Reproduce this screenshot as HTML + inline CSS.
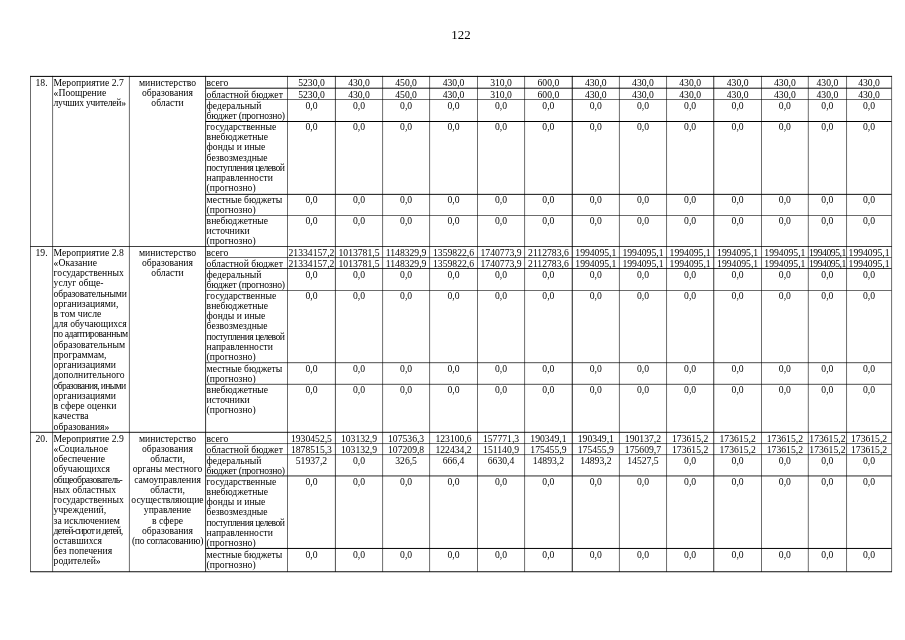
<!DOCTYPE html>
<html><head><meta charset="utf-8"><title>122</title>
<style>
html,body{margin:0;padding:0;background:#fff;}
body{width:905px;height:640px;position:relative;overflow:hidden;font-family:"Liberation Serif",serif;color:#000;}
svg{position:absolute;left:0;top:0;}
.t{position:absolute;white-space:nowrap;font-size:9.67px;line-height:11px;height:11px;}
#pg{position:absolute;left:0;top:0;width:905px;height:640px;filter:grayscale(1);}
</style></head><body><div id="pg">
<svg width="905" height="640" viewBox="0 0 905 640">
<line x1="30.50" y1="75.90" x2="30.50" y2="571.90" stroke="#000" stroke-width="0.58"/>
<line x1="52.60" y1="75.90" x2="52.60" y2="571.90" stroke="#000" stroke-width="0.58"/>
<line x1="129.40" y1="75.90" x2="129.40" y2="571.90" stroke="#000" stroke-width="0.58"/>
<line x1="205.60" y1="75.90" x2="205.60" y2="571.90" stroke="#000" stroke-width="0.8"/>
<line x1="287.50" y1="75.90" x2="287.50" y2="571.90" stroke="#000" stroke-width="0.58"/>
<line x1="335.40" y1="75.90" x2="335.40" y2="571.90" stroke="#000" stroke-width="0.7"/>
<line x1="382.60" y1="75.90" x2="382.60" y2="571.90" stroke="#000" stroke-width="0.58"/>
<line x1="429.60" y1="75.90" x2="429.60" y2="571.90" stroke="#000" stroke-width="0.58"/>
<line x1="477.50" y1="75.90" x2="477.50" y2="571.90" stroke="#000" stroke-width="0.58"/>
<line x1="524.60" y1="75.90" x2="524.60" y2="571.90" stroke="#000" stroke-width="0.58"/>
<line x1="572.25" y1="75.90" x2="572.25" y2="571.90" stroke="#000" stroke-width="0.9"/>
<line x1="619.40" y1="75.90" x2="619.40" y2="571.90" stroke="#000" stroke-width="0.58"/>
<line x1="666.55" y1="75.90" x2="666.55" y2="571.90" stroke="#000" stroke-width="0.58"/>
<line x1="713.75" y1="75.90" x2="713.75" y2="571.90" stroke="#000" stroke-width="0.8"/>
<line x1="761.50" y1="75.90" x2="761.50" y2="571.90" stroke="#000" stroke-width="0.58"/>
<line x1="808.30" y1="75.90" x2="808.30" y2="571.90" stroke="#000" stroke-width="0.58"/>
<line x1="846.55" y1="75.90" x2="846.55" y2="571.90" stroke="#000" stroke-width="0.58"/>
<line x1="891.60" y1="75.90" x2="891.60" y2="571.90" stroke="#000" stroke-width="0.58"/>
<line x1="30.20" y1="76.40" x2="891.90" y2="76.40" stroke="#000" stroke-width="1.0"/>
<line x1="205.60" y1="88.20" x2="891.60" y2="88.20" stroke="#000" stroke-width="0.95"/>
<line x1="205.60" y1="99.50" x2="891.60" y2="99.50" stroke="#000" stroke-width="0.58"/>
<line x1="205.60" y1="121.50" x2="891.60" y2="121.50" stroke="#000" stroke-width="1.0"/>
<line x1="205.60" y1="194.35" x2="891.60" y2="194.35" stroke="#000" stroke-width="0.95"/>
<line x1="205.60" y1="215.50" x2="891.60" y2="215.50" stroke="#000" stroke-width="0.58"/>
<line x1="30.20" y1="246.50" x2="891.90" y2="246.50" stroke="#000" stroke-width="0.75"/>
<line x1="205.60" y1="257.50" x2="891.60" y2="257.50" stroke="#000" stroke-width="0.58"/>
<line x1="205.60" y1="268.50" x2="891.60" y2="268.50" stroke="#000" stroke-width="0.8"/>
<line x1="205.60" y1="290.50" x2="891.60" y2="290.50" stroke="#000" stroke-width="0.58"/>
<line x1="205.60" y1="362.70" x2="891.60" y2="362.70" stroke="#000" stroke-width="0.7"/>
<line x1="205.60" y1="384.30" x2="891.60" y2="384.30" stroke="#000" stroke-width="0.7"/>
<line x1="30.20" y1="432.30" x2="891.90" y2="432.30" stroke="#000" stroke-width="0.9"/>
<line x1="205.60" y1="443.55" x2="891.60" y2="443.55" stroke="#000" stroke-width="0.58"/>
<line x1="205.60" y1="454.60" x2="891.60" y2="454.60" stroke="#000" stroke-width="0.58"/>
<line x1="205.60" y1="475.95" x2="891.60" y2="475.95" stroke="#000" stroke-width="0.85"/>
<line x1="205.60" y1="548.45" x2="891.60" y2="548.45" stroke="#000" stroke-width="1.0"/>
<line x1="30.20" y1="571.75" x2="891.90" y2="571.75" stroke="#000" stroke-width="0.95"/>
</svg>
<div class="t" style="top:77px;left:-58.45px;width:200px;text-align:center;">18.</div>
<div class="t" style="top:77px;left:53.60px;">Мероприятие 2.7</div>
<div class="t" style="top:87px;left:53.60px;">«Поощрение</div>
<div class="t" style="top:97px;left:53.60px;letter-spacing:-0.29px;">лучших учителей»</div>
<div class="t" style="top:77px;left:67.50px;width:200px;text-align:center;">министерство</div>
<div class="t" style="top:87px;left:67.50px;width:200px;text-align:center;">образования</div>
<div class="t" style="top:97px;left:67.50px;width:200px;text-align:center;">области</div>
<div class="t" style="top:77px;left:206.60px;">всего</div>
<div class="t" style="top:77px;left:211.45px;width:200px;text-align:center;">5230,0</div>
<div class="t" style="top:77px;left:259.00px;width:200px;text-align:center;">430,0</div>
<div class="t" style="top:77px;left:306.10px;width:200px;text-align:center;">450,0</div>
<div class="t" style="top:77px;left:353.55px;width:200px;text-align:center;">430,0</div>
<div class="t" style="top:77px;left:401.05px;width:200px;text-align:center;">310,0</div>
<div class="t" style="top:77px;left:448.42px;width:200px;text-align:center;">600,0</div>
<div class="t" style="top:77px;left:495.83px;width:200px;text-align:center;">430,0</div>
<div class="t" style="top:77px;left:542.97px;width:200px;text-align:center;">430,0</div>
<div class="t" style="top:77px;left:590.15px;width:200px;text-align:center;">430,0</div>
<div class="t" style="top:77px;left:637.62px;width:200px;text-align:center;">430,0</div>
<div class="t" style="top:77px;left:684.90px;width:200px;text-align:center;">430,0</div>
<div class="t" style="top:77px;left:727.42px;width:200px;text-align:center;">430,0</div>
<div class="t" style="top:77px;left:769.08px;width:200px;text-align:center;">430,0</div>
<div class="t" style="top:89px;left:206.60px;">областной бюджет</div>
<div class="t" style="top:89px;left:211.45px;width:200px;text-align:center;">5230,0</div>
<div class="t" style="top:89px;left:259.00px;width:200px;text-align:center;">430,0</div>
<div class="t" style="top:89px;left:306.10px;width:200px;text-align:center;">450,0</div>
<div class="t" style="top:89px;left:353.55px;width:200px;text-align:center;">430,0</div>
<div class="t" style="top:89px;left:401.05px;width:200px;text-align:center;">310,0</div>
<div class="t" style="top:89px;left:448.42px;width:200px;text-align:center;">600,0</div>
<div class="t" style="top:89px;left:495.83px;width:200px;text-align:center;">430,0</div>
<div class="t" style="top:89px;left:542.97px;width:200px;text-align:center;">430,0</div>
<div class="t" style="top:89px;left:590.15px;width:200px;text-align:center;">430,0</div>
<div class="t" style="top:89px;left:637.62px;width:200px;text-align:center;">430,0</div>
<div class="t" style="top:89px;left:684.90px;width:200px;text-align:center;">430,0</div>
<div class="t" style="top:89px;left:727.42px;width:200px;text-align:center;">430,0</div>
<div class="t" style="top:89px;left:769.08px;width:200px;text-align:center;">430,0</div>
<div class="t" style="top:100px;left:206.60px;">федеральный</div>
<div class="t" style="top:110px;left:206.60px;letter-spacing:-0.27px;">бюджет (прогнозно)</div>
<div class="t" style="top:100px;left:211.45px;width:200px;text-align:center;">0,0</div>
<div class="t" style="top:100px;left:259.00px;width:200px;text-align:center;">0,0</div>
<div class="t" style="top:100px;left:306.10px;width:200px;text-align:center;">0,0</div>
<div class="t" style="top:100px;left:353.55px;width:200px;text-align:center;">0,0</div>
<div class="t" style="top:100px;left:401.05px;width:200px;text-align:center;">0,0</div>
<div class="t" style="top:100px;left:448.42px;width:200px;text-align:center;">0,0</div>
<div class="t" style="top:100px;left:495.83px;width:200px;text-align:center;">0,0</div>
<div class="t" style="top:100px;left:542.97px;width:200px;text-align:center;">0,0</div>
<div class="t" style="top:100px;left:590.15px;width:200px;text-align:center;">0,0</div>
<div class="t" style="top:100px;left:637.62px;width:200px;text-align:center;">0,0</div>
<div class="t" style="top:100px;left:684.90px;width:200px;text-align:center;">0,0</div>
<div class="t" style="top:100px;left:727.42px;width:200px;text-align:center;">0,0</div>
<div class="t" style="top:100px;left:769.08px;width:200px;text-align:center;">0,0</div>
<div class="t" style="top:121px;left:206.60px;">государственные</div>
<div class="t" style="top:131px;left:206.60px;">внебюджетные</div>
<div class="t" style="top:141px;left:206.60px;">фонды и иные</div>
<div class="t" style="top:152px;left:206.60px;">безвозмездные</div>
<div class="t" style="top:162px;left:206.60px;letter-spacing:-0.53px;">поступления целевой</div>
<div class="t" style="top:172px;left:206.60px;">направленности</div>
<div class="t" style="top:182px;left:206.60px;">(прогнозно)</div>
<div class="t" style="top:121px;left:211.45px;width:200px;text-align:center;">0,0</div>
<div class="t" style="top:121px;left:259.00px;width:200px;text-align:center;">0,0</div>
<div class="t" style="top:121px;left:306.10px;width:200px;text-align:center;">0,0</div>
<div class="t" style="top:121px;left:353.55px;width:200px;text-align:center;">0,0</div>
<div class="t" style="top:121px;left:401.05px;width:200px;text-align:center;">0,0</div>
<div class="t" style="top:121px;left:448.42px;width:200px;text-align:center;">0,0</div>
<div class="t" style="top:121px;left:495.83px;width:200px;text-align:center;">0,0</div>
<div class="t" style="top:121px;left:542.97px;width:200px;text-align:center;">0,0</div>
<div class="t" style="top:121px;left:590.15px;width:200px;text-align:center;">0,0</div>
<div class="t" style="top:121px;left:637.62px;width:200px;text-align:center;">0,0</div>
<div class="t" style="top:121px;left:684.90px;width:200px;text-align:center;">0,0</div>
<div class="t" style="top:121px;left:727.42px;width:200px;text-align:center;">0,0</div>
<div class="t" style="top:121px;left:769.08px;width:200px;text-align:center;">0,0</div>
<div class="t" style="top:194px;left:206.60px;">местные бюджеты</div>
<div class="t" style="top:204px;left:206.60px;">(прогнозно)</div>
<div class="t" style="top:194px;left:211.45px;width:200px;text-align:center;">0,0</div>
<div class="t" style="top:194px;left:259.00px;width:200px;text-align:center;">0,0</div>
<div class="t" style="top:194px;left:306.10px;width:200px;text-align:center;">0,0</div>
<div class="t" style="top:194px;left:353.55px;width:200px;text-align:center;">0,0</div>
<div class="t" style="top:194px;left:401.05px;width:200px;text-align:center;">0,0</div>
<div class="t" style="top:194px;left:448.42px;width:200px;text-align:center;">0,0</div>
<div class="t" style="top:194px;left:495.83px;width:200px;text-align:center;">0,0</div>
<div class="t" style="top:194px;left:542.97px;width:200px;text-align:center;">0,0</div>
<div class="t" style="top:194px;left:590.15px;width:200px;text-align:center;">0,0</div>
<div class="t" style="top:194px;left:637.62px;width:200px;text-align:center;">0,0</div>
<div class="t" style="top:194px;left:684.90px;width:200px;text-align:center;">0,0</div>
<div class="t" style="top:194px;left:727.42px;width:200px;text-align:center;">0,0</div>
<div class="t" style="top:194px;left:769.08px;width:200px;text-align:center;">0,0</div>
<div class="t" style="top:215px;left:206.60px;">внебюджетные</div>
<div class="t" style="top:225px;left:206.60px;">источники</div>
<div class="t" style="top:235px;left:206.60px;">(прогнозно)</div>
<div class="t" style="top:215px;left:211.45px;width:200px;text-align:center;">0,0</div>
<div class="t" style="top:215px;left:259.00px;width:200px;text-align:center;">0,0</div>
<div class="t" style="top:215px;left:306.10px;width:200px;text-align:center;">0,0</div>
<div class="t" style="top:215px;left:353.55px;width:200px;text-align:center;">0,0</div>
<div class="t" style="top:215px;left:401.05px;width:200px;text-align:center;">0,0</div>
<div class="t" style="top:215px;left:448.42px;width:200px;text-align:center;">0,0</div>
<div class="t" style="top:215px;left:495.83px;width:200px;text-align:center;">0,0</div>
<div class="t" style="top:215px;left:542.97px;width:200px;text-align:center;">0,0</div>
<div class="t" style="top:215px;left:590.15px;width:200px;text-align:center;">0,0</div>
<div class="t" style="top:215px;left:637.62px;width:200px;text-align:center;">0,0</div>
<div class="t" style="top:215px;left:684.90px;width:200px;text-align:center;">0,0</div>
<div class="t" style="top:215px;left:727.42px;width:200px;text-align:center;">0,0</div>
<div class="t" style="top:215px;left:769.08px;width:200px;text-align:center;">0,0</div>
<div class="t" style="top:247px;left:-58.45px;width:200px;text-align:center;">19.</div>
<div class="t" style="top:247px;left:53.60px;">Мероприятие 2.8</div>
<div class="t" style="top:257px;left:53.60px;">«Оказание</div>
<div class="t" style="top:267px;left:53.60px;">государственных</div>
<div class="t" style="top:277px;left:53.60px;">услуг обще-</div>
<div class="t" style="top:288px;left:53.60px;letter-spacing:-0.22px;">образовательными</div>
<div class="t" style="top:298px;left:53.60px;">организациями,</div>
<div class="t" style="top:308px;left:53.60px;">в том числе</div>
<div class="t" style="top:318px;left:53.60px;">для обучающихся</div>
<div class="t" style="top:328px;left:53.60px;letter-spacing:-0.45px;">по адаптированным</div>
<div class="t" style="top:339px;left:53.60px;">образовательным</div>
<div class="t" style="top:349px;left:53.60px;">программам,</div>
<div class="t" style="top:359px;left:53.60px;">организациями</div>
<div class="t" style="top:369px;left:53.60px;">дополнительного</div>
<div class="t" style="top:380px;left:53.60px;letter-spacing:-0.66px;">образования, иными</div>
<div class="t" style="top:390px;left:53.60px;">организациями</div>
<div class="t" style="top:400px;left:53.60px;">в сфере оценки</div>
<div class="t" style="top:410px;left:53.60px;">качества</div>
<div class="t" style="top:421px;left:53.60px;">образования»</div>
<div class="t" style="top:247px;left:67.50px;width:200px;text-align:center;">министерство</div>
<div class="t" style="top:257px;left:67.50px;width:200px;text-align:center;">образования</div>
<div class="t" style="top:267px;left:67.50px;width:200px;text-align:center;">области</div>
<div class="t" style="top:247px;left:206.60px;">всего</div>
<div class="t" style="top:247px;left:211.45px;width:200px;text-align:center;">21334157,2</div>
<div class="t" style="top:247px;left:259.00px;width:200px;text-align:center;">1013781,5</div>
<div class="t" style="top:247px;left:306.10px;width:200px;text-align:center;">1148329,9</div>
<div class="t" style="top:247px;left:353.55px;width:200px;text-align:center;">1359822,6</div>
<div class="t" style="top:247px;left:401.05px;width:200px;text-align:center;">1740773,9</div>
<div class="t" style="top:247px;left:448.42px;width:200px;text-align:center;">2112783,6</div>
<div class="t" style="top:247px;left:495.83px;width:200px;text-align:center;">1994095,1</div>
<div class="t" style="top:247px;left:542.97px;width:200px;text-align:center;">1994095,1</div>
<div class="t" style="top:247px;left:590.15px;width:200px;text-align:center;">1994095,1</div>
<div class="t" style="top:247px;left:637.62px;width:200px;text-align:center;">1994095,1</div>
<div class="t" style="top:247px;left:684.90px;width:200px;text-align:center;">1994095,1</div>
<div class="t" style="top:247px;left:727.42px;width:200px;text-align:center;letter-spacing:-0.47px;">1994095,1</div>
<div class="t" style="top:247px;left:769.08px;width:200px;text-align:center;">1994095,1</div>
<div class="t" style="top:258px;left:206.60px;">областной бюджет</div>
<div class="t" style="top:258px;left:211.45px;width:200px;text-align:center;">21334157,2</div>
<div class="t" style="top:258px;left:259.00px;width:200px;text-align:center;">1013781,5</div>
<div class="t" style="top:258px;left:306.10px;width:200px;text-align:center;">1148329,9</div>
<div class="t" style="top:258px;left:353.55px;width:200px;text-align:center;">1359822,6</div>
<div class="t" style="top:258px;left:401.05px;width:200px;text-align:center;">1740773,9</div>
<div class="t" style="top:258px;left:448.42px;width:200px;text-align:center;">2112783,6</div>
<div class="t" style="top:258px;left:495.83px;width:200px;text-align:center;">1994095,1</div>
<div class="t" style="top:258px;left:542.97px;width:200px;text-align:center;">1994095,1</div>
<div class="t" style="top:258px;left:590.15px;width:200px;text-align:center;">1994095,1</div>
<div class="t" style="top:258px;left:637.62px;width:200px;text-align:center;">1994095,1</div>
<div class="t" style="top:258px;left:684.90px;width:200px;text-align:center;">1994095,1</div>
<div class="t" style="top:258px;left:727.42px;width:200px;text-align:center;letter-spacing:-0.47px;">1994095,1</div>
<div class="t" style="top:258px;left:769.08px;width:200px;text-align:center;">1994095,1</div>
<div class="t" style="top:269px;left:206.60px;">федеральный</div>
<div class="t" style="top:279px;left:206.60px;letter-spacing:-0.27px;">бюджет (прогнозно)</div>
<div class="t" style="top:269px;left:211.45px;width:200px;text-align:center;">0,0</div>
<div class="t" style="top:269px;left:259.00px;width:200px;text-align:center;">0,0</div>
<div class="t" style="top:269px;left:306.10px;width:200px;text-align:center;">0,0</div>
<div class="t" style="top:269px;left:353.55px;width:200px;text-align:center;">0,0</div>
<div class="t" style="top:269px;left:401.05px;width:200px;text-align:center;">0,0</div>
<div class="t" style="top:269px;left:448.42px;width:200px;text-align:center;">0,0</div>
<div class="t" style="top:269px;left:495.83px;width:200px;text-align:center;">0,0</div>
<div class="t" style="top:269px;left:542.97px;width:200px;text-align:center;">0,0</div>
<div class="t" style="top:269px;left:590.15px;width:200px;text-align:center;">0,0</div>
<div class="t" style="top:269px;left:637.62px;width:200px;text-align:center;">0,0</div>
<div class="t" style="top:269px;left:684.90px;width:200px;text-align:center;">0,0</div>
<div class="t" style="top:269px;left:727.42px;width:200px;text-align:center;">0,0</div>
<div class="t" style="top:269px;left:769.08px;width:200px;text-align:center;">0,0</div>
<div class="t" style="top:290px;left:206.60px;">государственные</div>
<div class="t" style="top:300px;left:206.60px;">внебюджетные</div>
<div class="t" style="top:310px;left:206.60px;">фонды и иные</div>
<div class="t" style="top:320px;left:206.60px;">безвозмездные</div>
<div class="t" style="top:331px;left:206.60px;letter-spacing:-0.53px;">поступления целевой</div>
<div class="t" style="top:341px;left:206.60px;">направленности</div>
<div class="t" style="top:351px;left:206.60px;">(прогнозно)</div>
<div class="t" style="top:290px;left:211.45px;width:200px;text-align:center;">0,0</div>
<div class="t" style="top:290px;left:259.00px;width:200px;text-align:center;">0,0</div>
<div class="t" style="top:290px;left:306.10px;width:200px;text-align:center;">0,0</div>
<div class="t" style="top:290px;left:353.55px;width:200px;text-align:center;">0,0</div>
<div class="t" style="top:290px;left:401.05px;width:200px;text-align:center;">0,0</div>
<div class="t" style="top:290px;left:448.42px;width:200px;text-align:center;">0,0</div>
<div class="t" style="top:290px;left:495.83px;width:200px;text-align:center;">0,0</div>
<div class="t" style="top:290px;left:542.97px;width:200px;text-align:center;">0,0</div>
<div class="t" style="top:290px;left:590.15px;width:200px;text-align:center;">0,0</div>
<div class="t" style="top:290px;left:637.62px;width:200px;text-align:center;">0,0</div>
<div class="t" style="top:290px;left:684.90px;width:200px;text-align:center;">0,0</div>
<div class="t" style="top:290px;left:727.42px;width:200px;text-align:center;">0,0</div>
<div class="t" style="top:290px;left:769.08px;width:200px;text-align:center;">0,0</div>
<div class="t" style="top:363px;left:206.60px;">местные бюджеты</div>
<div class="t" style="top:373px;left:206.60px;">(прогнозно)</div>
<div class="t" style="top:363px;left:211.45px;width:200px;text-align:center;">0,0</div>
<div class="t" style="top:363px;left:259.00px;width:200px;text-align:center;">0,0</div>
<div class="t" style="top:363px;left:306.10px;width:200px;text-align:center;">0,0</div>
<div class="t" style="top:363px;left:353.55px;width:200px;text-align:center;">0,0</div>
<div class="t" style="top:363px;left:401.05px;width:200px;text-align:center;">0,0</div>
<div class="t" style="top:363px;left:448.42px;width:200px;text-align:center;">0,0</div>
<div class="t" style="top:363px;left:495.83px;width:200px;text-align:center;">0,0</div>
<div class="t" style="top:363px;left:542.97px;width:200px;text-align:center;">0,0</div>
<div class="t" style="top:363px;left:590.15px;width:200px;text-align:center;">0,0</div>
<div class="t" style="top:363px;left:637.62px;width:200px;text-align:center;">0,0</div>
<div class="t" style="top:363px;left:684.90px;width:200px;text-align:center;">0,0</div>
<div class="t" style="top:363px;left:727.42px;width:200px;text-align:center;">0,0</div>
<div class="t" style="top:363px;left:769.08px;width:200px;text-align:center;">0,0</div>
<div class="t" style="top:384px;left:206.60px;">внебюджетные</div>
<div class="t" style="top:394px;left:206.60px;">источники</div>
<div class="t" style="top:404px;left:206.60px;">(прогнозно)</div>
<div class="t" style="top:384px;left:211.45px;width:200px;text-align:center;">0,0</div>
<div class="t" style="top:384px;left:259.00px;width:200px;text-align:center;">0,0</div>
<div class="t" style="top:384px;left:306.10px;width:200px;text-align:center;">0,0</div>
<div class="t" style="top:384px;left:353.55px;width:200px;text-align:center;">0,0</div>
<div class="t" style="top:384px;left:401.05px;width:200px;text-align:center;">0,0</div>
<div class="t" style="top:384px;left:448.42px;width:200px;text-align:center;">0,0</div>
<div class="t" style="top:384px;left:495.83px;width:200px;text-align:center;">0,0</div>
<div class="t" style="top:384px;left:542.97px;width:200px;text-align:center;">0,0</div>
<div class="t" style="top:384px;left:590.15px;width:200px;text-align:center;">0,0</div>
<div class="t" style="top:384px;left:637.62px;width:200px;text-align:center;">0,0</div>
<div class="t" style="top:384px;left:684.90px;width:200px;text-align:center;">0,0</div>
<div class="t" style="top:384px;left:727.42px;width:200px;text-align:center;">0,0</div>
<div class="t" style="top:384px;left:769.08px;width:200px;text-align:center;">0,0</div>
<div class="t" style="top:433px;left:-58.45px;width:200px;text-align:center;">20.</div>
<div class="t" style="top:433px;left:53.60px;">Мероприятие 2.9</div>
<div class="t" style="top:443px;left:53.60px;">«Социальное</div>
<div class="t" style="top:453px;left:53.60px;">обеспечение</div>
<div class="t" style="top:463px;left:53.60px;">обучающихся</div>
<div class="t" style="top:474px;left:53.60px;letter-spacing:-0.57px;">общеобразователь-</div>
<div class="t" style="top:484px;left:53.60px;">ных областных</div>
<div class="t" style="top:494px;left:53.60px;">государственных</div>
<div class="t" style="top:504px;left:53.60px;">учреждений,</div>
<div class="t" style="top:515px;left:53.60px;">за исключением</div>
<div class="t" style="top:525px;left:53.60px;letter-spacing:-0.79px;">детей-сирот и детей,</div>
<div class="t" style="top:535px;left:53.60px;">оставшихся</div>
<div class="t" style="top:545px;left:53.60px;">без попечения</div>
<div class="t" style="top:555px;left:53.60px;">родителей»</div>
<div class="t" style="top:433px;left:67.50px;width:200px;text-align:center;">министерство</div>
<div class="t" style="top:443px;left:67.50px;width:200px;text-align:center;">образования</div>
<div class="t" style="top:453px;left:67.50px;width:200px;text-align:center;">области,</div>
<div class="t" style="top:463px;left:67.50px;width:200px;text-align:center;">органы местного</div>
<div class="t" style="top:474px;left:67.50px;width:200px;text-align:center;">самоуправления</div>
<div class="t" style="top:484px;left:67.50px;width:200px;text-align:center;">области,</div>
<div class="t" style="top:494px;left:67.50px;width:200px;text-align:center;">осуществляющие</div>
<div class="t" style="top:504px;left:67.50px;width:200px;text-align:center;">управление</div>
<div class="t" style="top:515px;left:67.50px;width:200px;text-align:center;">в сфере</div>
<div class="t" style="top:525px;left:67.50px;width:200px;text-align:center;">образования</div>
<div class="t" style="top:535px;left:67.50px;width:200px;text-align:center;letter-spacing:-0.28px;">(по согласованию)</div>
<div class="t" style="top:433px;left:206.60px;">всего</div>
<div class="t" style="top:433px;left:211.45px;width:200px;text-align:center;">1930452,5</div>
<div class="t" style="top:433px;left:259.00px;width:200px;text-align:center;">103132,9</div>
<div class="t" style="top:433px;left:306.10px;width:200px;text-align:center;">107536,3</div>
<div class="t" style="top:433px;left:353.55px;width:200px;text-align:center;">123100,6</div>
<div class="t" style="top:433px;left:401.05px;width:200px;text-align:center;">157771,3</div>
<div class="t" style="top:433px;left:448.42px;width:200px;text-align:center;">190349,1</div>
<div class="t" style="top:433px;left:495.83px;width:200px;text-align:center;">190349,1</div>
<div class="t" style="top:433px;left:542.97px;width:200px;text-align:center;">190137,2</div>
<div class="t" style="top:433px;left:590.15px;width:200px;text-align:center;">173615,2</div>
<div class="t" style="top:433px;left:637.62px;width:200px;text-align:center;">173615,2</div>
<div class="t" style="top:433px;left:684.90px;width:200px;text-align:center;">173615,2</div>
<div class="t" style="top:433px;left:727.42px;width:200px;text-align:center;">173615,2</div>
<div class="t" style="top:433px;left:769.08px;width:200px;text-align:center;">173615,2</div>
<div class="t" style="top:444px;left:206.60px;">областной бюджет</div>
<div class="t" style="top:444px;left:211.45px;width:200px;text-align:center;">1878515,3</div>
<div class="t" style="top:444px;left:259.00px;width:200px;text-align:center;">103132,9</div>
<div class="t" style="top:444px;left:306.10px;width:200px;text-align:center;">107209,8</div>
<div class="t" style="top:444px;left:353.55px;width:200px;text-align:center;">122434,2</div>
<div class="t" style="top:444px;left:401.05px;width:200px;text-align:center;">151140,9</div>
<div class="t" style="top:444px;left:448.42px;width:200px;text-align:center;">175455,9</div>
<div class="t" style="top:444px;left:495.83px;width:200px;text-align:center;">175455,9</div>
<div class="t" style="top:444px;left:542.97px;width:200px;text-align:center;">175609,7</div>
<div class="t" style="top:444px;left:590.15px;width:200px;text-align:center;">173615,2</div>
<div class="t" style="top:444px;left:637.62px;width:200px;text-align:center;">173615,2</div>
<div class="t" style="top:444px;left:684.90px;width:200px;text-align:center;">173615,2</div>
<div class="t" style="top:444px;left:727.42px;width:200px;text-align:center;">173615,2</div>
<div class="t" style="top:444px;left:769.08px;width:200px;text-align:center;">173615,2</div>
<div class="t" style="top:455px;left:206.60px;">федеральный</div>
<div class="t" style="top:465px;left:206.60px;letter-spacing:-0.27px;">бюджет (прогнозно)</div>
<div class="t" style="top:455px;left:211.45px;width:200px;text-align:center;">51937,2</div>
<div class="t" style="top:455px;left:259.00px;width:200px;text-align:center;">0,0</div>
<div class="t" style="top:455px;left:306.10px;width:200px;text-align:center;">326,5</div>
<div class="t" style="top:455px;left:353.55px;width:200px;text-align:center;">666,4</div>
<div class="t" style="top:455px;left:401.05px;width:200px;text-align:center;">6630,4</div>
<div class="t" style="top:455px;left:448.42px;width:200px;text-align:center;">14893,2</div>
<div class="t" style="top:455px;left:495.83px;width:200px;text-align:center;">14893,2</div>
<div class="t" style="top:455px;left:542.97px;width:200px;text-align:center;">14527,5</div>
<div class="t" style="top:455px;left:590.15px;width:200px;text-align:center;">0,0</div>
<div class="t" style="top:455px;left:637.62px;width:200px;text-align:center;">0,0</div>
<div class="t" style="top:455px;left:684.90px;width:200px;text-align:center;">0,0</div>
<div class="t" style="top:455px;left:727.42px;width:200px;text-align:center;">0,0</div>
<div class="t" style="top:455px;left:769.08px;width:200px;text-align:center;">0,0</div>
<div class="t" style="top:476px;left:206.60px;">государственные</div>
<div class="t" style="top:486px;left:206.60px;">внебюджетные</div>
<div class="t" style="top:496px;left:206.60px;">фонды и иные</div>
<div class="t" style="top:506px;left:206.60px;">безвозмездные</div>
<div class="t" style="top:517px;left:206.60px;letter-spacing:-0.53px;">поступления целевой</div>
<div class="t" style="top:527px;left:206.60px;">направленности</div>
<div class="t" style="top:537px;left:206.60px;">(прогнозно)</div>
<div class="t" style="top:476px;left:211.45px;width:200px;text-align:center;">0,0</div>
<div class="t" style="top:476px;left:259.00px;width:200px;text-align:center;">0,0</div>
<div class="t" style="top:476px;left:306.10px;width:200px;text-align:center;">0,0</div>
<div class="t" style="top:476px;left:353.55px;width:200px;text-align:center;">0,0</div>
<div class="t" style="top:476px;left:401.05px;width:200px;text-align:center;">0,0</div>
<div class="t" style="top:476px;left:448.42px;width:200px;text-align:center;">0,0</div>
<div class="t" style="top:476px;left:495.83px;width:200px;text-align:center;">0,0</div>
<div class="t" style="top:476px;left:542.97px;width:200px;text-align:center;">0,0</div>
<div class="t" style="top:476px;left:590.15px;width:200px;text-align:center;">0,0</div>
<div class="t" style="top:476px;left:637.62px;width:200px;text-align:center;">0,0</div>
<div class="t" style="top:476px;left:684.90px;width:200px;text-align:center;">0,0</div>
<div class="t" style="top:476px;left:727.42px;width:200px;text-align:center;">0,0</div>
<div class="t" style="top:476px;left:769.08px;width:200px;text-align:center;">0,0</div>
<div class="t" style="top:549px;left:206.60px;">местные бюджеты</div>
<div class="t" style="top:559px;left:206.60px;">(прогнозно)</div>
<div class="t" style="top:549px;left:211.45px;width:200px;text-align:center;">0,0</div>
<div class="t" style="top:549px;left:259.00px;width:200px;text-align:center;">0,0</div>
<div class="t" style="top:549px;left:306.10px;width:200px;text-align:center;">0,0</div>
<div class="t" style="top:549px;left:353.55px;width:200px;text-align:center;">0,0</div>
<div class="t" style="top:549px;left:401.05px;width:200px;text-align:center;">0,0</div>
<div class="t" style="top:549px;left:448.42px;width:200px;text-align:center;">0,0</div>
<div class="t" style="top:549px;left:495.83px;width:200px;text-align:center;">0,0</div>
<div class="t" style="top:549px;left:542.97px;width:200px;text-align:center;">0,0</div>
<div class="t" style="top:549px;left:590.15px;width:200px;text-align:center;">0,0</div>
<div class="t" style="top:549px;left:637.62px;width:200px;text-align:center;">0,0</div>
<div class="t" style="top:549px;left:684.90px;width:200px;text-align:center;">0,0</div>
<div class="t" style="top:549px;left:727.42px;width:200px;text-align:center;">0,0</div>
<div class="t" style="top:549px;left:769.08px;width:200px;text-align:center;">0,0</div>
<div class="t" style="top:28px;left:361.00px;width:200px;text-align:center;font-size:12.9px;line-height:14px;height:14px;color:#000;">122</div>
</div></body></html>
